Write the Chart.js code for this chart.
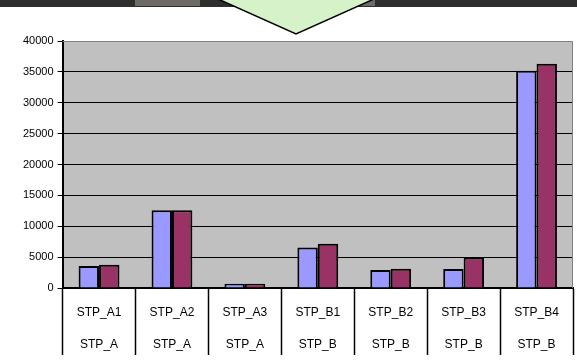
<!DOCTYPE html>
<html>
<head>
<meta charset="utf-8">
<script src="https://cdn.jsdelivr.net/npm/chart.js@4/dist/chart.umd.min.js"></script>
<style>
  html, body { margin: 0; padding: 0; background: #fff; }
  #wrap { width: 577px; height: 362px; position: relative; }
</style>
</head>
<body>
<div id="wrap"><canvas id="myChart"></canvas></div>
<script>
// Datos
const estaciones = ['STP_A1', 'STP_A2', 'STP_A3', 'STP_B1', 'STP_B2', 'STP_B3', 'STP_B4'];
const grupos = ['STP_A', 'STP_A', 'STP_A', 'STP_B', 'STP_B', 'STP_B', 'STP_B'];
const serie1 = [3550, 12600, 700, 6550, 2900, 3080, 35200];
const serie2 = [3750, 12600, 700, 7150, 3130, 4950, 36300];

// Fondo gris, borde y la franja de arriba con el triangulo
const decoracion = {
    id: 'decoracion',
    beforeDraw(chart) {
        const c = chart.ctx;
        const a = chart.chartArea;
        c.save();
        c.fillStyle = '#2e2e2e';
        c.fillRect(0, 0, chart.width, 7);
        c.fillStyle = '#6e6a66';
        c.fillRect(135, 0, 65, 6);
        c.fillRect(355, 0, 20, 6);
        c.fillStyle = '#c0c0c0';
        c.fillRect(a.left, a.top, a.right - a.left, a.bottom - a.top);
        c.beginPath();
        c.moveTo(218, -1);
        c.lineTo(296, 34);
        c.lineTo(374, -1);
        c.closePath();
        c.fillStyle = '#d6f2c9';
        c.fill();
        c.lineWidth = 1.5;
        c.strokeStyle = '#000';
        c.stroke();
        c.restore();
    },
    afterDraw(chart) {
        const c = chart.ctx;
        const a = chart.chartArea;
        c.save();
        c.strokeStyle = '#808080';
        c.lineWidth = 1;
        c.beginPath();
        c.moveTo(a.left, a.top + 0.5);
        c.lineTo(a.right - 0.5, a.top + 0.5);
        c.lineTo(a.right - 0.5, a.bottom);
        c.stroke();
        c.restore();
    }
};

const ctx = document.getElementById('myChart').getContext('2d');
const myChart = new Chart(ctx, {
    type: 'bar',
    data: {
        labels: estaciones.map((e, i) => [e, grupos[i]]),
        datasets: [{
            data: serie1,
            backgroundColor: '#9999ff',
            borderColor: '#000',
            borderWidth: 2,
            categoryPercentage: 0.56,
            barPercentage: 1
        }, {
            data: serie2,
            backgroundColor: '#993366',
            borderColor: '#000',
            borderWidth: 2,
            categoryPercentage: 0.56,
            barPercentage: 1
        }]
    },
    plugins: [decoracion],
    options: {
        responsive: true,
        maintainAspectRatio: false,
        animation: false,
        layout: { padding: { top: 41, right: 4, left: 19, bottom: 0 } },
        plugins: {
            legend: { display: false },
            tooltip: { enabled: false }
        },
        scales: {
            x: {
                afterFit(scale) { scale.height = 74; },
                grid: {
                    offset: true,
                    drawOnChartArea: false,
                    tickLength: 67,
                    tickColor: '#000',
                    tickWidth: 1.5
                },
                border: { color: '#000', width: 2 },
                ticks: {
                    color: '#000',
                    padding: -58,
                    maxRotation: 0,
                    font: { family: 'Liberation Sans, Arial', size: 12, lineHeight: 2.65 }
                }
            },
            y: {
                min: 0,
                max: 40000,
                ticks: {
                    stepSize: 5000,
                    color: '#000',
                    padding: 4,
                    callback: (v) => String(v),
                    font: { family: 'Liberation Sans, Arial', size: 11 }
                },
                grid: {
                    color: (c) => c.tick && c.tick.value === 40000 ? 'rgba(0,0,0,0)' : '#000',
                    tickColor: '#000',
                    tickLength: 5,
                    lineWidth: 1
                },
                border: { color: '#000', width: 2 }
            }
        }
    }
});
</script>
</body>
</html>
